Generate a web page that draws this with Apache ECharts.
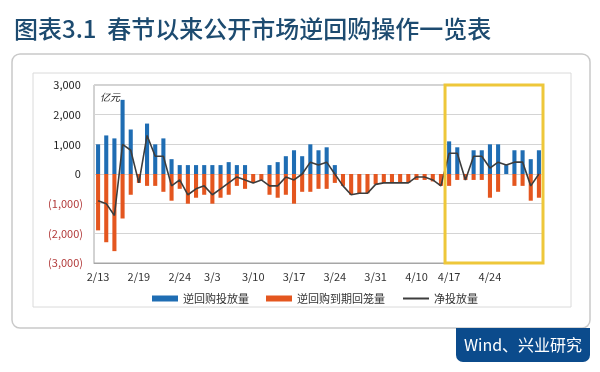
<!DOCTYPE html>
<html>
<head>
<meta charset="utf-8">
<script src="https://cdn.jsdelivr.net/npm/echarts@6/dist/echarts.min.js"></script>
<style>
html,body{margin:0;padding:0;background:#fff;}
#c{width:600px;height:372px;}
</style>
</head>
<body>
<div id="c"></div>
<script>
// Categories (trading days)
var dates = ['2/13','2/14','2/15','2/16','2/17','2/19','2/20','2/21','2/22','2/23',
             '2/24','2/27','2/28','3/1','3/3','3/6','3/7','3/8','3/9','3/10',
             '3/13','3/14','3/15','3/16','3/17','3/20','3/21','3/22','3/23','3/24',
             '3/27','3/28','3/29','3/30','3/31','4/1','4/5','4/6','4/7','4/10',
             '4/11','4/12','4/13','4/17','4/18','4/19','4/20','4/21','4/24','4/25',
             '4/26','4/27','4/28','5/2','5/3'];
var tickLabels = ['2/13','2/19','2/24','3/3','3/10','3/17','3/24','3/31','4/10','4/17','4/24'];
// 逆回购投放量 (亿元)
var injection = [1000,1300,1200,2500,1500,0,1700,1000,1200,500,
                 300,300,300,300,300,300,400,300,300,0,
                 0,300,400,600,800,600,1000,800,900,300,
                 0,0,0,0,0,0,0,0,0,0,
                 0,0,0,1100,900,0,800,800,1000,1000,
                 300,800,800,500,800];
// 逆回购到期回笼量 (亿元)
var maturity = [-1900,-2300,-2600,-1500,-700,-300,-400,-400,-600,-900,
                -500,-1000,-800,-700,-1000,-800,-700,-400,-500,-300,
                -200,-700,-800,-700,-1000,-600,-600,-500,-500,-300,
                -400,-700,-650,-650,-350,-300,-300,-300,-300,-200,
                -200,-250,-400,-400,-200,-200,-200,-200,-800,-600,
                0,-400,-400,-900,-800];
// 净投放量 (亿元)
var netInjection = [-900,-1000,-1400,1000,800,-300,1300,600,600,-400,
                    -200,-700,-500,-400,-700,-500,-300,-100,-200,-300,
                    -200,-400,-400,-100,-200,0,400,300,400,0,
                    -400,-700,-650,-650,-350,-300,-300,-300,-300,-100,
                    -100,-200,-400,700,700,-200,600,600,200,400,
                    300,400,400,-400,0];
var highlightStart = '4/17';
var highlightEnd = '5/3';

var chart = echarts.init(document.getElementById('c'), null, {renderer:'canvas'});
var FONT = '"Noto Sans CJK SC","Noto Sans",sans-serif';

function fmt(v){
  var s = Math.abs(v).toLocaleString('en-US');
  return v < 0 ? '(' + s + ')' : s + '\u2009';
}

var option = {
  backgroundColor:'#ffffff',
  animation:false,
  title:{
    text:'图表3.1  春节以来公开市场逆回购操作一览表',
    left:9, top:12,
    textStyle:{fontFamily:FONT, fontSize:24, fontWeight:500, color:'#1d4b70'}
  },
  grid:{left:94, right:57, top:85, bottom:109, show:true, borderColor:'#a6a6a6', borderWidth:1, backgroundColor:'transparent'},
  legend:{
    left:147, top:288, itemWidth:26, itemHeight:6, itemGap:17,
    textStyle:{fontFamily:FONT, fontSize:11, color:'#333'},
    data:[{name:'逆回购投放量', icon:'rect'},{name:'逆回购到期回笼量', icon:'rect'},{name:'净投放量', itemStyle:{opacity:0}}]
  },
  xAxis:{
    type:'category', data:dates, boundaryGap:true,
    axisLine:{show:true, onZero:false, lineStyle:{color:'#a6a6a6'}},
    axisTick:{show:false},
    axisLabel:{
      interval:function(i, name){ return tickLabels.indexOf(name) >= 0; },
      fontFamily:FONT, fontSize:11, color:'#333', margin:8
    },
    splitLine:{show:false}
  },
  yAxis:{
    type:'value', min:-3000, max:3000, interval:1000,
    axisLine:{show:false}, axisTick:{show:false},
    axisLabel:{
      formatter:fmt, margin:11, fontFamily:FONT, fontSize:11,
      color:function(v){ return Number(v) < 0 ? '#b23a3a' : '#222'; }
    },
    splitLine:{lineStyle:{color:'#d4d4d4', width:1}}
  },
  series:[
    {name:'逆回购投放量', type:'bar', data:injection, barWidth:'50%', barGap:'-100%',
     itemStyle:{color:'#1f6db3'}},
    {name:'逆回购到期回笼量', type:'bar', data:maturity, barWidth:'50%', barGap:'-100%',
     itemStyle:{color:'#e4561f'}},
    {name:'净投放量', type:'line', data:netInjection, symbol:'none', showSymbol:false,
     lineStyle:{color:'#3d3d3d', width:1.6}, itemStyle:{color:'#3d3d3d'}, z:5}
  ]
};
chart.setOption(option);

// Highlight box computed from axis scales
var x0 = chart.convertToPixel({xAxisIndex:0}, highlightStart);
var x1 = chart.convertToPixel({xAxisIndex:0}, highlightEnd);
var step = chart.convertToPixel({xAxisIndex:0}, dates[1]) - chart.convertToPixel({xAxisIndex:0}, dates[0]);
var yTop = chart.convertToPixel({yAxisIndex:0}, 3000);
var yBot = chart.convertToPixel({yAxisIndex:0}, -3000);

chart.setOption({
  graphic:[
    {type:'rect', shape:{x:12, y:54, width:578, height:274, r:8}, style:{fill:'none', stroke:'#c9c9c9', lineWidth:1.5}, z:-1, silent:true},
    {type:'rect', shape:{x:33, y:73, width:538, height:234}, style:{fill:'none', stroke:'#dadada', lineWidth:1}, z:-1, silent:true},
    {type:'rect', shape:{x:x0 - step/2, y:yTop, width:(x1 - x0) + step, height:yBot - yTop}, style:{fill:'none', stroke:'#eec73a', lineWidth:3}, z:20, silent:true},
    {type:'text', x:100, y:92, style:{text:'亿元', font:'italic 10px "Noto Sans CJK SC"', fill:'#222'}, z:20},
    {type:'rect', shape:{x:456, y:328, width:134, height:34, r:[0,0,7,7]}, style:{fill:'#0b4b8c'}, z:10},
    {type:'text', x:523, y:345, style:{text:'Wind、兴业研究', font:'16px "Noto Sans CJK SC"', fill:'#ffffff', textAlign:'center', textVerticalAlign:'middle'}, z:11}
  ]
});
</script>
</body>
</html>
